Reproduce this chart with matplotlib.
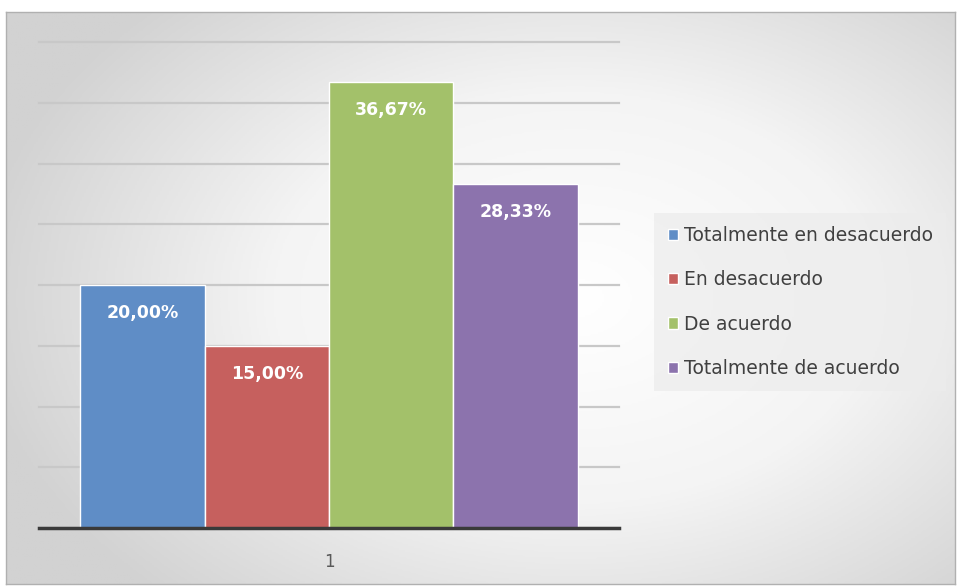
import numpy as np
import matplotlib.pyplot as plt
from matplotlib.colors import LinearSegmentedColormap

# datos
series = ["Totalmente en desacuerdo", "En desacuerdo", "De acuerdo", "Totalmente de acuerdo"]
valores = [20.00, 15.00, 36.67, 28.33]
colores = ["#5f8dc6", "#c6605e", "#a3c16a", "#8c73ad"]
categoria = ["1"]

fig = plt.figure(figsize=(9.59, 5.86), dpi=100)

# fondo con degradado radial
bg = fig.add_axes([6 / 959, 2 / 586, 949 / 959, 572 / 586])
yy, xx = np.mgrid[0:1:300j, 0:1:500j]
r = np.sqrt(((xx - 0.6) / 0.75) ** 2 + ((yy - 0.5) / 0.85) ** 2)
cmap = LinearSegmentedColormap.from_list("bg", ["#ffffff", "#f4f4f4", "#d2d2d2"])
bg.imshow(r, cmap=cmap, aspect="auto", extent=[0, 1, 0, 1], vmin=0, vmax=0.85)
bg.set_xticks([])
bg.set_yticks([])
for s in bg.spines.values():
    s.set_color("#b0b0b0")
    s.set_linewidth(1)

ax = fig.add_axes([39 / 959, 58 / 586, 580 / 959, 486 / 586])
ax.set_facecolor("none")

n = len(series)
ancho = 1 / (n + 0.66)
for i, (nom, v, c) in enumerate(zip(series, valores, colores)):
    x = (i - (n - 1) / 2) * ancho
    ax.bar(x, v, width=ancho, color=c, edgecolor="white", linewidth=1, label=nom, zorder=3)
    ax.text(x, v - 2.3, f"{v:.2f}%".replace(".", ","), ha="center", va="center",
            color="white", fontsize=12.5, fontweight="bold", zorder=4)

ax.set_xlim(-0.5, 0.5)
ax.set_ylim(0, 40)
ax.set_yticks(np.arange(0, 41, 5))
ax.yaxis.grid(True, color="#c8c8c8", linewidth=1.6, zorder=0)
for gl in ax.get_ygridlines():
    gl.set_clip_on(False)
ax.tick_params(axis="y", left=False, labelleft=False)
ax.set_xticks([0])
ax.set_xticklabels(categoria, fontsize=12, color="#595959")
ax.tick_params(axis="x", length=0, pad=18)
for s in ["top", "right", "left"]:
    ax.spines[s].set_visible(False)
ax.spines["bottom"].set_color("#3a3a3a")
ax.spines["bottom"].set_linewidth(2.5)
ax.spines["bottom"].set_zorder(5)

leg = ax.legend(loc="center left", bbox_to_anchor=(1.045, 0.465), frameon=True,
                fontsize=13.5, handlelength=0.55, handleheight=0.55, handletextpad=0.3,
                labelspacing=1.35, borderpad=0.7, fancybox=False)
leg.get_frame().set_facecolor("#ececec")
leg.get_frame().set_edgecolor("none")
leg.get_frame().set_alpha(0.7)
for t in leg.get_texts():
    t.set_color("#404040")

fig.savefig("out.png", dpi=100)
